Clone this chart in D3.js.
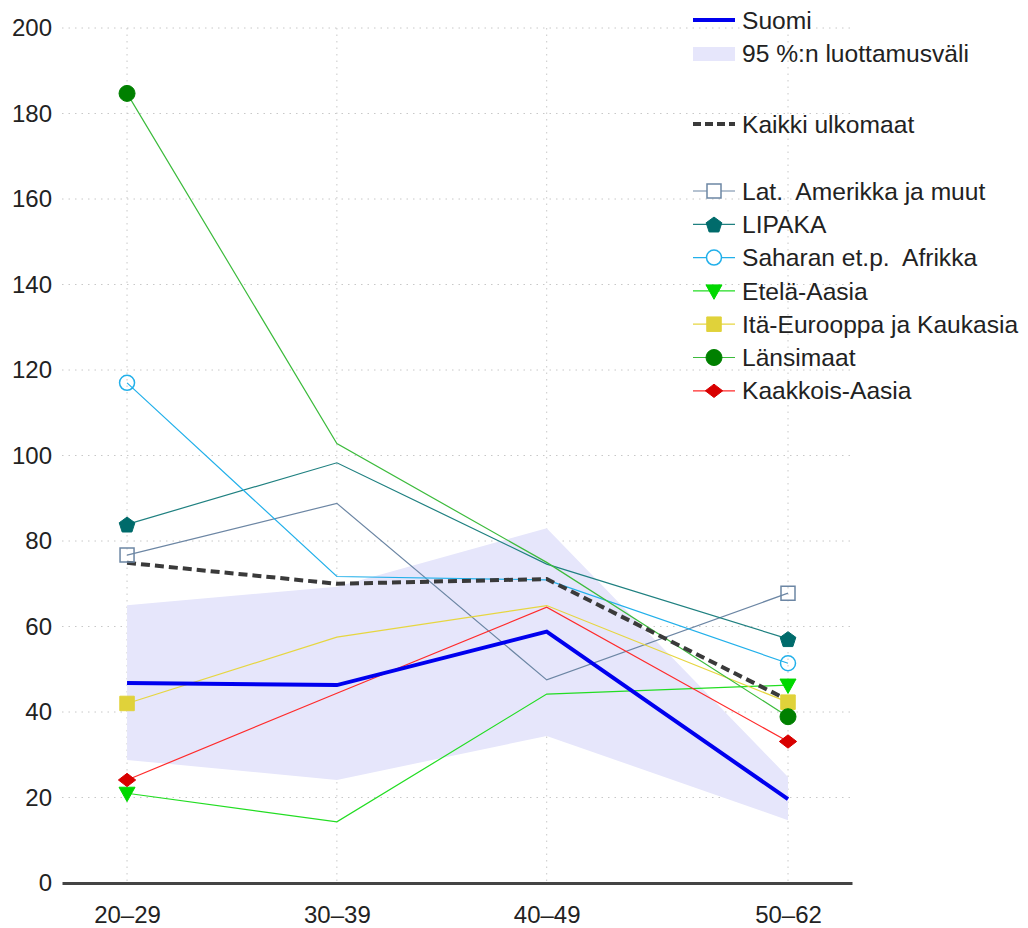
<!DOCTYPE html>
<html><head><meta charset="utf-8">
<script src="https://cdn.jsdelivr.net/npm/d3@7"></script>
<style>body{margin:0;background:#fff}svg text{font-family:"Liberation Sans",Arial,sans-serif;fill:#222;white-space:pre}</style>
</head><body><svg id="c" width="1028" height="928"></svg>
<script>
const categories = ["20–29","30–39","40–49","50–62"];
const ageMid = [24.5, 34.5, 44.5, 56];
const yTicks = [0,20,40,60,80,100,120,140,160,180,200];
const suomi = [46.8, 46.3, 58.8, 19.6];
const ciLow = [28.8, 24.1, 34.4, 14.7];
const ciHigh = [65.0, 69.3, 83.0, 24.8];
const kaikki = [74.9, 70.0, 71.1, 42.8];
const latAm = [76.7, 88.8, 47.5, 67.8];
const lipaka = [83.9, 98.3, 74.6, 57.1];
const saharan = [117.0, 71.7, 70.9, 51.4];
const etela = [21.0, 14.3, 44.2, 46.3];
const ita = [42.0, 57.5, 64.9, 42.3];
const lansi = [184.7, 102.8, 75.0, 38.9];
const kaakkois = [24.1, 44.4, 64.5, 33.1];

const groups = [
  {name:"Lat.  Amerikka ja muut", values:latAm, line:"#6c86a4", fill:"none", stroke:"#6c86a4", sym:"square", open:true, size:14},
  {name:"LIPAKA", values:lipaka, line:"#1f8080", fill:"#006b6b", stroke:"#006b6b", sym:"pentagon", size:15},
  {name:"Saharan et.p.  Afrikka", values:saharan, line:"#22b0ea", fill:"none", stroke:"#22b0ea", sym:"circle", open:true, size:15},
  {name:"Etelä-Aasia", values:etela, line:"#22dd22", fill:"#00d800", stroke:"#00d800", sym:"tri", size:16},
  {name:"Itä-Eurooppa ja Kaukasia", values:ita, line:"#e6d640", fill:"#e0d23a", stroke:"#e0d23a", sym:"square", size:14.5},
  {name:"Länsimaat", values:lansi, line:"#3cbb3c", fill:"#008000", stroke:"#008000", sym:"circle", size:16},
  {name:"Kaakkois-Aasia", values:kaakkois, line:"#ff2a2a", fill:"#d80000", stroke:"#d80000", sym:"diamond", size:14}
];

const svg = d3.select("#c");
const x = d3.scaleLinear().domain([21.4, 59.05]).range([62, 852]);
const y = d3.scaleLinear().domain([0, 200]).range([883, 28]);

// grid
svg.append("g").selectAll("line").data(yTicks.slice(1)).join("line")
  .attr("x1",62).attr("x2",852).attr("y1",d=>y(d)).attr("y2",d=>y(d))
  .attr("stroke","#c8c8c8").attr("stroke-width",1).attr("stroke-dasharray","1.5,5");
svg.append("g").selectAll("line").data(ageMid).join("line")
  .attr("x1",d=>x(d)).attr("x2",d=>x(d)).attr("y1",y(200)).attr("y2",y(0))
  .attr("stroke","#c8c8c8").attr("stroke-width",1).attr("stroke-dasharray","1.5,5");

// CI band
const area = d3.area().x((d,i)=>x(ageMid[i])).y0((d,i)=>y(ciLow[i])).y1((d,i)=>y(ciHigh[i]));
svg.append("path").datum(ciLow).attr("d",area).attr("fill","#e6e6fb");

const line = d3.line().x((d,i)=>x(ageMid[i])).y(d=>y(d));

function symPath(sym, s){
  if(sym==="square") return d3.symbol(d3.symbolSquare, s*s)();
  if(sym==="circle") return d3.symbol(d3.symbolCircle, Math.PI*(s/2)*(s/2))();
  if(sym==="diamond"){const r=s/2*0.95;return `M${-r*1.3},0L0,${-r}L${r*1.3},0L0,${r}Z`;}
  if(sym==="tri"){const r=s/2;return `M${-r},${-r*0.75}L${r},${-r*0.75}L0,${r*1.05}Z`;}
  if(sym==="pentagon"){const r=s/2*1.1;let p=[];for(let k=0;k<5;k++){const a=-Math.PI/2+k*2*Math.PI/5;p.push([r*Math.cos(a),r*Math.sin(a)+1]);}return "M"+p.map(q=>q.join(",")).join("L")+"Z";}
}

// group lines
groups.forEach(g=>{
  svg.append("path").datum(g.values).attr("d",line).attr("fill","none").attr("stroke",g.line).attr("stroke-width",1.2);
});
// kaikki dashed
svg.append("path").datum(kaikki).attr("d",line).attr("fill","none").attr("stroke","#3a3a3a").attr("stroke-width",4).attr("stroke-dasharray","9,5");
// suomi
svg.append("path").datum(suomi).attr("d",line).attr("fill","none").attr("stroke","#0000ee").attr("stroke-width",4);

// markers only at first and last age group
const endIdx = [0, categories.length-1];
groups.forEach(g=>{
  svg.append("g").selectAll("path").data(endIdx).join("path")
    .attr("transform",i=>`translate(${x(ageMid[i])},${y(g.values[i])})`)
    .attr("d",symPath(g.sym,g.size))
    .attr("fill",g.open?"#fff":g.fill).attr("fill-opacity",g.open?0:1)
    .attr("stroke",g.stroke).attr("stroke-width",g.open?1.5:1);
});

// axes
const ya = svg.append("g").attr("transform","translate(62,0)")
  .call(d3.axisLeft(y).tickValues(yTicks).tickSize(0).tickPadding(10));
ya.select(".domain").remove();
ya.selectAll("text").attr("font-size",24).attr("fill","#222").attr("font-family","Liberation Sans, Arial, sans-serif");
const xa = svg.append("g").attr("transform","translate(0,883)")
  .call(d3.axisBottom(x).tickValues(ageMid).tickFormat((d,i)=>categories[i]).tickSize(0).tickPadding(23));
xa.select(".domain").attr("stroke","#444").attr("stroke-width",3);
xa.selectAll("text").attr("font-size",24).attr("fill","#222").attr("font-family","Liberation Sans, Arial, sans-serif");

// legend
const lg = svg.append("g");
const lx0=693, lx1=735, tx=742;
function legText(yy, t){lg.append("text").attr("x",tx).attr("y",yy).attr("dy","0.35em").attr("font-size",24.6).attr("xml:space","preserve").text(t);}
lg.append("line").attr("x1",lx0).attr("x2",lx1).attr("y1",20).attr("y2",20).attr("stroke","#0000ee").attr("stroke-width",4);
legText(20,"Suomi");
lg.append("rect").attr("x",lx0).attr("y",47).attr("width",lx1-lx0).attr("height",14).attr("fill","#e6e6fb");
legText(53,"95 %:n luottamusväli");
lg.append("line").attr("x1",lx0).attr("x2",lx1).attr("y1",124).attr("y2",124).attr("stroke","#3a3a3a").attr("stroke-width",4).attr("stroke-dasharray","8,4");
legText(124,"Kaikki ulkomaat");
groups.forEach((g,i)=>{
  const yy = 191 + i*33.3;
  lg.append("line").attr("x1",lx0).attr("x2",lx1).attr("y1",yy).attr("y2",yy).attr("stroke",g.line).attr("stroke-width",1.2);
  lg.append("path").attr("transform",`translate(${(lx0+lx1)/2},${yy})`).attr("d",symPath(g.sym,g.size))
    .attr("fill",g.open?"#fff":g.fill).attr("stroke",g.stroke).attr("stroke-width",g.open?1.5:1);
  legText(yy,g.name);
});
</script></body></html>
